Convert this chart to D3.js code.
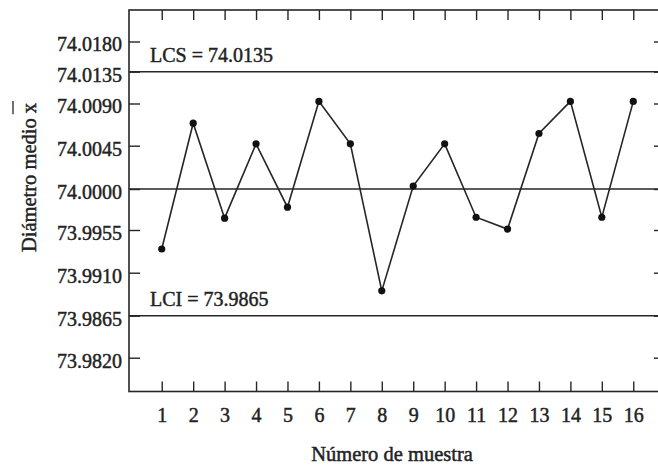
<!DOCTYPE html>
<html>
<head>
<meta charset="utf-8">
<script src="https://cdn.jsdelivr.net/npm/d3@7.9.0/dist/d3.min.js"></script>
<style>
  body { margin: 0; background: #fff; }
  svg { display: block; }
  text { font-family: "Liberation Serif", "Times New Roman", serif; fill: #222; stroke: #222; stroke-width: 0.45px; }
</style>
</head>
<body>
<svg id="chart" width="658" height="467"></svg>
<script>
// data
const samples = [1, 2, 3, 4, 5, 6, 7, 8, 9, 10, 11, 12, 13, 14, 15, 16];
const means = [73.9935, 74.0069, 73.9968, 74.0047, 73.9980, 74.0093, 74.0047, 73.9891,
               74.0003, 74.0047, 73.9969, 73.9956, 74.0058, 74.0093, 73.9969, 74.0093];
const yTicks = [73.9820, 73.9865, 73.9910, 73.9955, 74.0000, 74.0045, 74.0090, 74.0135, 74.0180];
const limitNames = ['LCS', '', 'LCI'];
const limitValues = [74.0135, 74.0000, 73.9865];

const svg = d3.select('#chart');
const frame = { left: 129, right: 664, top: 10, bottom: 391.5 };
const ink = '#262626';

const x = d3.scaleLinear().domain([0, 17]).range([130.3, 664.7]);
// the printed scale is not evenly spaced, so map each tick to where it sits
const y = d3.scaleLinear()
    .domain(yTicks)
    .range([357.7, 315.7, 272.7, 230, 189, 145.7, 103.5, 71.7, 41.5]);

const fmt = d3.format('.4f');

// axes
const gLeft = svg.append('g').attr('transform', `translate(${frame.left},0)`)
    .call(d3.axisLeft(y).tickValues(yTicks).tickSize(-11).tickPadding(7).tickFormat(fmt));
gLeft.selectAll('text').attr('dy', '0.47em');

const gRight = svg.append('g').attr('transform', `translate(${frame.right},0)`)
    .call(d3.axisRight(y).tickValues(yTicks).tickSize(-10).tickFormat(''));

const gBottom = svg.append('g').attr('transform', `translate(0,${frame.bottom})`)
    .call(d3.axisBottom(x).tickValues(samples).tickSize(-10).tickPadding(16.3));

const gTop = svg.append('g').attr('transform', `translate(0,${frame.top})`)
    .call(d3.axisTop(x).tickValues(samples).tickSize(-10).tickFormat(''));

[gLeft, gRight, gBottom, gTop].forEach(g => {
  g.select('.domain').remove();
  g.selectAll('line').attr('stroke', ink).attr('stroke-width', 1.4);
  g.selectAll('text').attr('font-size', 20).attr('fill', ink)
    .attr('font-family', '"Liberation Serif", "Times New Roman", serif');
});

// frame
svg.append('rect')
    .attr('x', frame.left).attr('y', frame.top)
    .attr('width', frame.right - frame.left).attr('height', frame.bottom - frame.top)
    .attr('fill', 'none').attr('stroke', ink).attr('stroke-width', 1.6);

// control lines
svg.selectAll('.limit').data(limitValues).join('line')
    .attr('class', 'limit')
    .attr('x1', frame.left).attr('x2', frame.right)
    .attr('y1', d => y(d)).attr('y2', d => y(d))
    .attr('stroke', ink).attr('stroke-width', 1.5);

svg.selectAll('.limit-label').data(limitValues.filter((d, i) => limitNames[i]))
    .join('text')
    .attr('class', 'limit-label')
    .attr('x', 150)
    .attr('y', d => y(d) - 9.5)
    .attr('font-size', 20)
    .text(d => `${limitNames[limitValues.indexOf(d)]} = ${fmt(d)}`);

// sample means
const line = d3.line().x((d, i) => x(samples[i])).y(d => y(d));
svg.append('path')
    .datum(means)
    .attr('d', line)
    .attr('fill', 'none')
    .attr('stroke', ink)
    .attr('stroke-width', 1.6);

svg.selectAll('.pt').data(means).join('circle')
    .attr('class', 'pt')
    .attr('cx', (d, i) => x(samples[i]))
    .attr('cy', d => y(d))
    .attr('r', 3.6)
    .attr('fill', '#111');

// axis titles
svg.append('text')
    .attr('x', 392).attr('y', 461)
    .attr('text-anchor', 'middle')
    .attr('font-size', 20.5)
    .text('Número de muestra');

const yTitle = svg.append('text')
    .attr('transform', 'translate(36,177.5) rotate(-90)')
    .attr('text-anchor', 'middle')
    .attr('font-size', 20.5)
    .text('Diámetro medio x');

// bar over the x of the title
const node = yTitle.node();
const total = node.getComputedTextLength();
const n = node.getNumberOfChars();
const xw = node.getSubStringLength(n - 1, 1);
svg.append('line')
    .attr('transform', 'translate(36,177.5) rotate(-90)')
    .attr('x1', total / 2 - xw - 1).attr('x2', total / 2 + 2)
    .attr('y1', -23).attr('y2', -23)
    .attr('stroke', ink).attr('stroke-width', 1.3);
</script>
</body>
</html>
